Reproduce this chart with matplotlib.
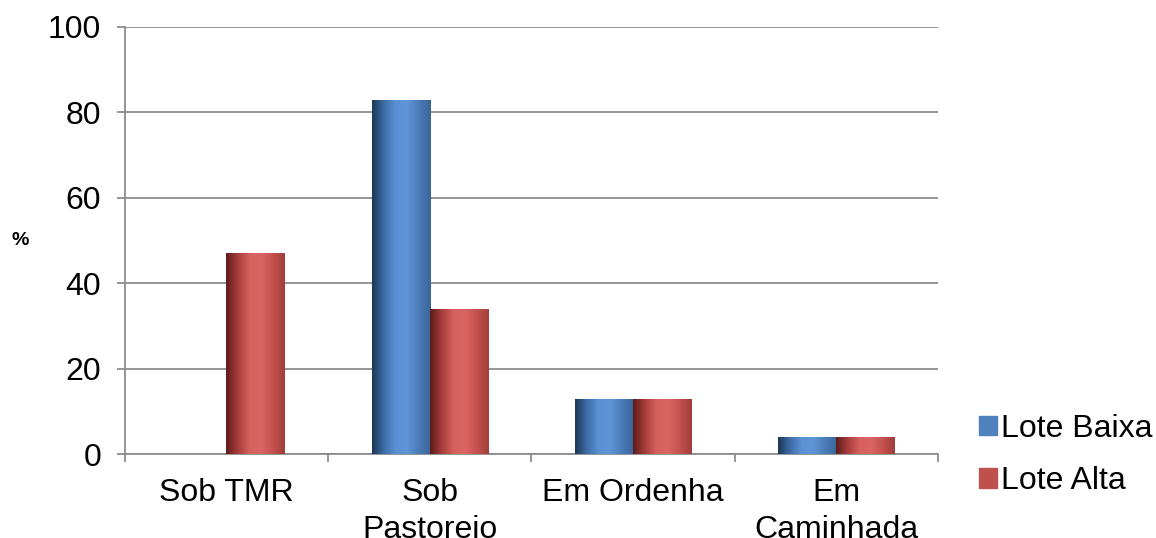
import numpy as np
import matplotlib.pyplot as plt
from matplotlib.colors import LinearSegmentedColormap
from matplotlib.patches import Patch

plt.rcParams['font.family'] = ['Liberation Sans', 'DejaVu Sans']

# data
categories = ["Sob TMR", "Sob\nPastoreio", "Em Ordenha", "Em\nCaminhada"]
lote_baixa = [0, 83, 13, 4]
lote_alta = [47, 34, 13, 4]
series_names = ["Lote Baixa", "Lote Alta"]

blue_cmap = LinearSegmentedColormap.from_list(
    "b", ["#1c3653", "#3d6ca6", "#5b90d2", "#5f95d6", "#4b7bb8", "#3a6598"])
red_cmap = LinearSegmentedColormap.from_list(
    "r", ["#5e1c1c", "#a63d3b", "#d6605c", "#da6561", "#c4514e", "#a03d3a"])

fig = plt.figure(figsize=(11.56, 5.38), dpi=100)
ax = fig.add_axes([0.108, 0.156, 0.7034, 0.794])

x = np.arange(len(categories))
w = 0.286
grad = np.linspace(0, 1, 256).reshape(1, -1)


def grad_bars(xs, vals, cmap):
    bars = ax.bar(xs, vals, w, color='none', edgecolor='none', zorder=3)
    for b in bars:
        if b.get_height() <= 0:
            continue
        x0, y0 = b.get_x(), b.get_y()
        im = ax.imshow(grad, cmap=cmap, aspect='auto', zorder=3,
                       extent=[x0, x0 + b.get_width(), y0, y0 + b.get_height()])
        im.set_clip_path(b)


grad_bars(x - w / 2, lote_baixa, blue_cmap)
grad_bars(x + w / 2, lote_alta, red_cmap)

ax.set_xlim(-0.5, 3.5)
ax.set_ylim(0, 100)
ax.set_yticks(range(0, 101, 20))
ax.grid(axis='y', color='#8c8c8c', lw=1.3, zorder=0)
for s in ['top', 'right']:
    ax.spines[s].set_visible(False)
for s in ['left', 'bottom']:
    ax.spines[s].set_color('#8c8c8c')
    ax.spines[s].set_linewidth(1.3)

ax.set_xticks(np.arange(-0.5, 4, 1))
ax.set_xticklabels([])
ax.set_xticks(x, minor=True)
ax.set_xticklabels(categories, minor=True, fontsize=23, linespacing=1.3)
ax.tick_params(axis='x', which='minor', length=0, pad=17)
ax.tick_params(axis='x', which='major', length=6, color='#8c8c8c', width=1.3)
ax.tick_params(axis='y', length=6, color='#8c8c8c', width=1.3, labelsize=23, pad=11)

fig.text(0.010, 0.553, "%", fontsize=14, fontweight='bold', ha='left', va='center')

handles = [Patch(color='#4f81bd'), Patch(color='#c0504d')]
fig.legend(handles, series_names, loc='center left', bbox_to_anchor=(0.822, 0.154),
           frameon=False, fontsize=23, handlelength=0.55, handleheight=0.55,
           handletextpad=0.15, labelspacing=0.7)

fig.savefig("out.png", dpi=100)
